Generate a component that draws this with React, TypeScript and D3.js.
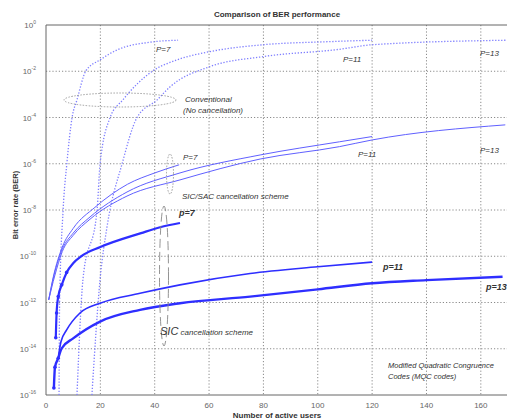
import React from "react";
import * as d3 from "d3";

const xTicks = [0, 20, 40, 60, 80, 100, 120, 140, 160];
const yTickExps = [0, -2, -4, -6, -8, -10, -12, -14, -16];

// Conventional (no cancellation) – [users, BER]
const convP7: [number, number][] = [[4.8, 1e-16], [5.0, 1e-12], [6.3, 1e-8], [7.7, 1.1e-6], [9.6, 1e-4], [11.4, 5.8e-4], [14.7, 1.05e-2], [19.9, 3.1e-2], [26.1, 8.3e-2], [38.3, 1.8e-1], [48.6, 2.2e-1]];
const convP11: [number, number][] = [[11.4, 1e-16], [13.6, 1e-11], [18.8, 1e-8], [19.9, 1e-6], [23.6, 1e-4], [28.3, 5.8e-4], [39.4, 1.05e-2], [48.2, 3.1e-2], [60.4, 7.1e-2], [79.9, 1.4e-1], [104, 1.9e-1], [120, 2.2e-1]];
const convP13: [number, number][] = [[16.9, 1e-16], [19.9, 1e-11], [22.5, 2e-9], [28, 1e-6], [33.5, 1e-4], [40.9, 5.8e-4], [45.6, 2.1e-3], [60.4, 1.6e-2], [79.9, 4.3e-2], [108, 8.9e-2], [120, 1.4e-1], [170, 2.2e-1]];

// SIC/SAC cancellation scheme
const sacP7: [number, number][] = [[1, 1.3e-12], [2.7, 1.3e-11], [6, 2.5e-10], [10, 1.6e-9], [18, 1.3e-8], [30, 1.3e-7], [40, 4e-7], [49, 9e-7]];
const sacP11: [number, number][] = [[1, 1.3e-12], [3, 1.6e-11], [6, 2e-10], [10, 1e-9], [16.2, 5e-9], [29.8, 6e-8], [49.3, 4e-7], [78.8, 2.4e-6], [108, 8.9e-6], [120, 1.5e-5]];
const sacP13: [number, number][] = [[1, 1.3e-12], [3.2, 1.4e-11], [6, 1.6e-10], [10, 8e-10], [16.2, 4e-9], [29.8, 4e-8], [49.3, 2e-7], [78.8, 1.6e-6], [108, 5.5e-6], [120, 1.07e-5], [169, 4.8e-5]];

// SIC cancellation scheme
const sicP7: [number, number][] = [[3.6, 3e-14], [3.9, 3.5e-13], [4.5, 1.8e-12], [5.8, 5.8e-12], [7.6, 2e-11], [10, 5e-11], [13, 1e-10], [20, 2.5e-10], [35, 1e-9], [42, 1.8e-9], [49.3, 2.75e-9]];
const sicP11: [number, number][] = [[4.5, 4e-15], [5.5, 2e-14], [7.6, 6.5e-14], [12.5, 3.5e-13], [19.9, 9.3e-13], [34.6, 2.5e-12], [49.3, 5.8e-12], [75.1, 1.8e-11], [100, 3.5e-11], [120, 5.6e-11]];
const sicP13: [number, number][] = [[2.9, 2e-16], [3.3, 1.6e-15], [4.5, 3.9e-15], [5.8, 1.05e-14], [10, 2.8e-14], [19.9, 1.5e-13], [34.6, 4.8e-13], [49.3, 9.3e-13], [75.1, 1.8e-12], [100, 3.7e-12], [120, 6.8e-12], [140, 9.3e-12], [168, 1.3e-11]];

const W = 507, H = 420;
const L = 46, R = 508, T = 25, B = 395;

export default function App() {
  const x = d3.scaleLinear().domain([0, 170]).range([L, R]);
  const y = d3.scaleLog().domain([1e-16, 1]).range([B, T]);
  const line = d3.line<[number, number]>().x(d => x(d[0])).y(d => y(d[1])).curve(d3.curveMonotoneX);
  const font = "'Liberation Sans', Arial, sans-serif";
  const gray = "#8a8a8a";
  const convColor = "#7f7fff";
  const sacColor = "#6060ff";
  const sicColor = "#2e2eff";

  return (
    <svg width={W} height={H} style={{ position: "absolute", left: 0, top: 0, background: "#fff" }} fontFamily={font}>
      <defs>
        <clipPath id="plot"><rect x={L} y={T} width={R - L} height={B - T} /></clipPath>
      </defs>
      <rect x={0} y={0} width={W} height={H} fill="#fff" />
      {/* grid */}
      {xTicks.filter(t => t > 0).map(t => (
        <line key={"gx" + t} x1={x(t)} x2={x(t)} y1={T} y2={B} stroke={gray} strokeWidth={1} strokeDasharray="1.2,2" />
      ))}
      {yTickExps.filter(e => e < 0 && e > -16).map(e => (
        <line key={"gy" + e} x1={L} x2={R} y1={y(Math.pow(10, e))} y2={y(Math.pow(10, e))} stroke={gray} strokeWidth={1} strokeDasharray="1.2,2" />
      ))}
      {/* frame */}
      <line x1={L} x2={R} y1={T} y2={T} stroke="#666" strokeWidth={1} />
      <line x1={L} x2={R} y1={B} y2={B} stroke="#666" strokeWidth={1} />
      <line x1={L} x2={L} y1={T} y2={B} stroke="#666" strokeWidth={1} />

      {/* tick labels */}
      {xTicks.map(t => (
        <text key={"tx" + t} x={x(t)} y={408} fontSize={8} fill="#666" textAnchor="middle">{t}</text>
      ))}
      {yTickExps.map(e => (
        <text key={"ty" + e} x={36} y={y(Math.pow(10, e)) + 3} fontSize={8} fill="#666" textAnchor="end">
          10<tspan fontSize={5} dy={-4}>{e}</tspan>
        </text>
      ))}

      <g clipPath="url(#plot)">
        {[convP7, convP11, convP13].map((d, i) => (
          <path key={"c" + i} d={line(d) || ""} fill="none" stroke={convColor} strokeWidth={1.3} strokeDasharray="1.3,1.7" />
        ))}
        {[sacP7, sacP11, sacP13].map((d, i) => (
          <path key={"s" + i} d={line(d) || ""} fill="none" stroke={sacColor} strokeWidth={1} />
        ))}
        <path d={line(sicP7) || ""} fill="none" stroke={sicColor} strokeWidth={2.2} />
        <path d={line(sicP11) || ""} fill="none" stroke={sicColor} strokeWidth={1.6} />
        <path d={line(sicP13) || ""} fill="none" stroke={sicColor} strokeWidth={2.4} />
        {sicP7.slice(0, 5).map((d, i) => (
          <circle key={"m7" + i} cx={x(d[0])} cy={y(d[1])} r={1.8} fill={sicColor} />
        ))}
        {sicP13.slice(0, 3).map((d, i) => (
          <circle key={"m13" + i} cx={x(d[0])} cy={y(d[1])} r={1.8} fill={sicColor} />
        ))}
      </g>

      {/* ellipses */}
      <ellipse cx={120} cy={100} rx={56} ry={7} fill="none" stroke="#888" strokeWidth={0.8} strokeDasharray="1.5,1.5" />
      <ellipse cx={170} cy={174} rx={3.5} ry={20} fill="none" stroke="#888" strokeWidth={0.8} strokeDasharray="1.5,1.5" />
      <ellipse cx={164} cy={276} rx={4.5} ry={70} fill="none" stroke="#888" strokeWidth={0.9} strokeDasharray="9,4" />

      {/* annotations */}
      <text x={156} y={52} fontSize={8} fontStyle="italic" fill="#333">P=7</text>
      <text x={343} y={62} fontSize={8} fontStyle="italic" fill="#333">P=11</text>
      <text x={480} y={56} fontSize={8} fontStyle="italic" fill="#333">P=13</text>
      <text x={185} y={102} fontSize={8} fontStyle="italic" fill="#333">Conventional</text>
      <text x={183} y={113} fontSize={8} fontStyle="italic" fill="#333">(No cancellation)</text>

      <text x={183} y={160} fontSize={8} fontStyle="italic" fill="#333">P=7</text>
      <text x={358} y={157} fontSize={8} fontStyle="italic" fill="#333">P=11</text>
      <text x={480} y={153} fontSize={8} fontStyle="italic" fill="#333">P=13</text>
      <text x={182} y={199} fontSize={8} fontStyle="italic" fill="#333">SIC/SAC cancellation scheme</text>

      <text x={179} y={216} fontSize={9} fontStyle="italic" fontWeight="bold" fill="#333">p=7</text>
      <text x={383} y={270} fontSize={9} fontStyle="italic" fontWeight="bold" fill="#333">p=11</text>
      <text x={486} y={290} fontSize={9} fontStyle="italic" fontWeight="bold" fill="#333">p=13</text>
      <text x={160} y={335} fill="#333" fontStyle="italic">
        <tspan fontSize={11}>SIC</tspan><tspan fontSize={8}>  cancellation scheme</tspan>
      </text>

      <text x={388} y={368} fontSize={7.5} fontStyle="italic" fill="#333">Modified Quadratic Congruence</text>
      <text x={388} y={379} fontSize={7.5} fontStyle="italic" fill="#333">Codes (MQC codes)</text>

      {/* titles */}
      <text x={277} y={17} fontSize={8} fontWeight="bold" fill="#333" textAnchor="middle">Comparison of BER performance</text>
      <text x={277} y={418} fontSize={8} fontWeight="bold" fill="#333" textAnchor="middle">Number of active users</text>
      <text transform={`translate(18,${205}) rotate(-90)`} fontSize={7.5} fontWeight="bold" fill="#333" textAnchor="middle">Bit error rate (BER)</text>
    </svg>
  );
}
